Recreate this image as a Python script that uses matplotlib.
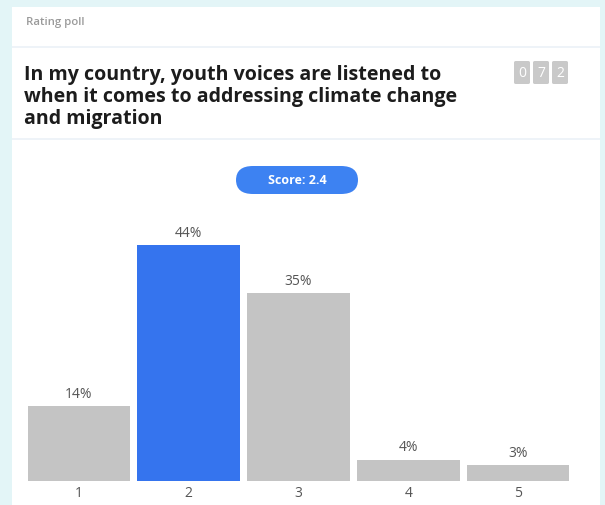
import matplotlib.pyplot as plt
from matplotlib.patches import Rectangle, FancyBboxPatch

# poll data
ratings = ["1", "2", "3", "4", "5"]
shares = [14, 44, 35, 4, 3]
top_rating = "2"
score_text = "Score: 2.4"
counter_digits = ["0", "7", "2"]
header = "Rating poll"
question = ("In my country, youth voices are listened to\n"
            "when it comes to addressing climate change\n"
            "and migration")

W, H = 605, 506
plt.rcParams["font.family"] = ["Open Sans", "DejaVu Sans"]

fig = plt.figure(figsize=(W / 100, H / 100), dpi=100, facecolor="#e3f5f7")


def fx(px):
    return px / W


def fy(py):
    return 1 - py / H


# white card and separators
fig.patches.append(Rectangle((fx(12), 0), fx(600) - fx(12), fy(8), transform=fig.transFigure,
                             facecolor="white", edgecolor="none", zorder=0))
for y in (48, 140):
    fig.patches.append(Rectangle((fx(12), fy(y + 1)), fx(600) - fx(12), 2 / H, transform=fig.transFigure,
                                 facecolor="#eef3f8", edgecolor="none", zorder=1))

fig.text(fx(26), fy(23), header, fontsize=8.2, color="#9a9a9a", fontweight="semibold", va="center")
fig.text(fx(24), fy(97), question, fontsize=14.1, color="#1c1c1c", fontweight="bold",
         va="center", linespacing=1.13)

# response counter
for i, d in enumerate(counter_digits):
    x0 = 514 + i * 19
    fig.patches.append(FancyBboxPatch((fx(x0), fy(85)), fx(16), 23 / H, transform=fig.transFigure,
                                      boxstyle="round,pad=0,rounding_size=0.003",
                                      facecolor="#c9c9c9", edgecolor="none", zorder=2))
    fig.text(fx(x0 + 8), fy(73.5), d, fontsize=10, color="white", ha="center", va="center", zorder=3)

# score pill
fig.patches.append(FancyBboxPatch((fx(236), fy(195)), fx(122), 28 / H, transform=fig.transFigure,
                                  boxstyle="round,pad=0,rounding_size=0.028",
                                  facecolor="#3d82f2", edgecolor="none", zorder=2))
fig.text(fx(297), fy(181), score_text, fontsize=9, color="white", fontweight="bold",
         ha="center", va="center", zorder=3)

# bar chart
ax = fig.add_axes([fx(24), fy(482), fx(573) - fx(24), (482 - 214) / H])
ax.set_zorder(5)
ax.set_facecolor("none")
xs = list(range(1, len(ratings) + 1))
colors = ["#3574ee" if r == top_rating else "#c4c4c4" for r in ratings]
bars = ax.bar(xs, shares, width=0.935, color=colors)
for x, v in zip(xs, shares):
    ax.text(x, v + 1.0, f"{v}%", ha="center", va="bottom", fontsize=10, color="#555555")
ax.set_xlim(0.5, len(ratings) + 0.5)
ax.set_ylim(0, 50)
ax.set_xticks(xs)
ax.set_xticklabels(ratings, fontsize=10, color="#555555")
ax.tick_params(axis="x", length=0, pad=3)
ax.set_yticks([])
for s in ax.spines.values():
    s.set_visible(False)

fig.savefig("out.png", dpi=100, facecolor=fig.get_facecolor())
